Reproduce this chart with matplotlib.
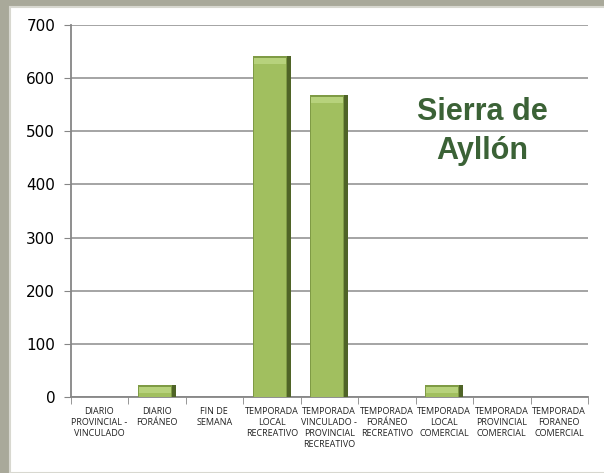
import matplotlib
matplotlib.use("Agg")
import matplotlib.pyplot as plt
from matplotlib.patches import Rectangle
import numpy as np

categories = [
    "DIARIO\nPROVINCIAL -\nVINCULADO",
    "DIARIO\nFORÁNEO",
    "FIN DE\nSEMANA",
    "TEMPORADA\nLOCAL\nRECREATIVO",
    "TEMPORADA\nVINCULADO -\nPROVINCIAL\nRECREATIVO",
    "TEMPORADA\nFORÁNEO\nRECREATIVO",
    "TEMPORADA\nLOCAL\nCOMERCIAL",
    "TEMPORADA\nPROVINCIAL\nCOMERCIAL",
    "TEMPORADA\nFORANEO\nCOMERCIAL",
]
values = [0, 22, 0, 641, 568, 0, 22, 0, 0]
yticks = [0, 100, 200, 300, 400, 500, 600, 700]
title_lines = ["Sierra de", "Ayllón"]

W, H = 604, 473
fig = plt.figure(figsize=(W / 100, H / 100), dpi=100)
fig.patch.set_facecolor("#a9a99a")
fig.patches.append(Rectangle((10 / W, 0), 1, 1 - 7 / H, transform=fig.transFigure,
                             facecolor="white", edgecolor="#d8d8d0", linewidth=1.5, zorder=-5))

ax = fig.add_axes([70.5 / W, 1 - 397 / H, (588 - 70.5) / W, (397 - 25) / H])
ax.set_zorder(2)
ax.set_facecolor("none")
x = np.arange(len(categories))
vals = np.array(values, dtype=float)
bw = 0.66
mask = vals > 0
xm, vm = x[mask], vals[mask]
# bevelled bars
ax.bar(xm, vm, width=bw, color="#7f9b45", zorder=3)
ax.bar(xm + bw / 2 - 0.035, vm, width=0.07, color="#4f6427", zorder=3)
ax.bar(xm - 0.035, vm - 3, width=bw - 0.11, color="#a1bf5f", zorder=3)
ax.bar(xm - 0.035, np.minimum(vm - 3, 12.0), bottom=vm - 3 - np.minimum(vm - 3, 12.0),
       width=bw - 0.11, color="#b7d27c", zorder=3)

ax.set_xlim(-0.5, len(categories) - 0.5)
ax.set_ylim(0, 700)
ax.set_yticks(yticks)
ax.set_yticklabels([str(v) for v in yticks], fontsize=11, family="DejaVu Sans")
ax.yaxis.grid(True, color="#8c8c8c", linewidth=1.1, zorder=1)
ax.set_axisbelow(True)
ax.tick_params(axis="y", length=5, color="#868686", pad=6)

ax.set_xticks(x)
ax.set_xticklabels(categories, fontsize=6.5, family="Open Sans", linespacing=1.3, color="#222222")
ax.set_xticks(np.arange(-0.5, len(categories), 1.0), minor=True)
ax.tick_params(axis="x", which="major", length=0, pad=7)
ax.tick_params(axis="x", which="minor", length=5, color="#868686")

for s in ["top", "right"]:
    ax.spines[s].set_visible(False)
for s in ["left", "bottom"]:
    ax.spines[s].set_color("#868686")
    ax.spines[s].set_linewidth(1.3)

ax.text(6.66, 521, title_lines[0], ha="center", va="baseline", fontsize=22, fontweight="bold",
        family="Liberation Sans", color="#3b6236", zorder=5)
ax.text(6.66, 448, title_lines[1], ha="center", va="baseline", fontsize=22, fontweight="bold",
        family="Liberation Sans", color="#3b6236", zorder=5)

fig.savefig("out.png", dpi=100, facecolor=fig.get_facecolor())
